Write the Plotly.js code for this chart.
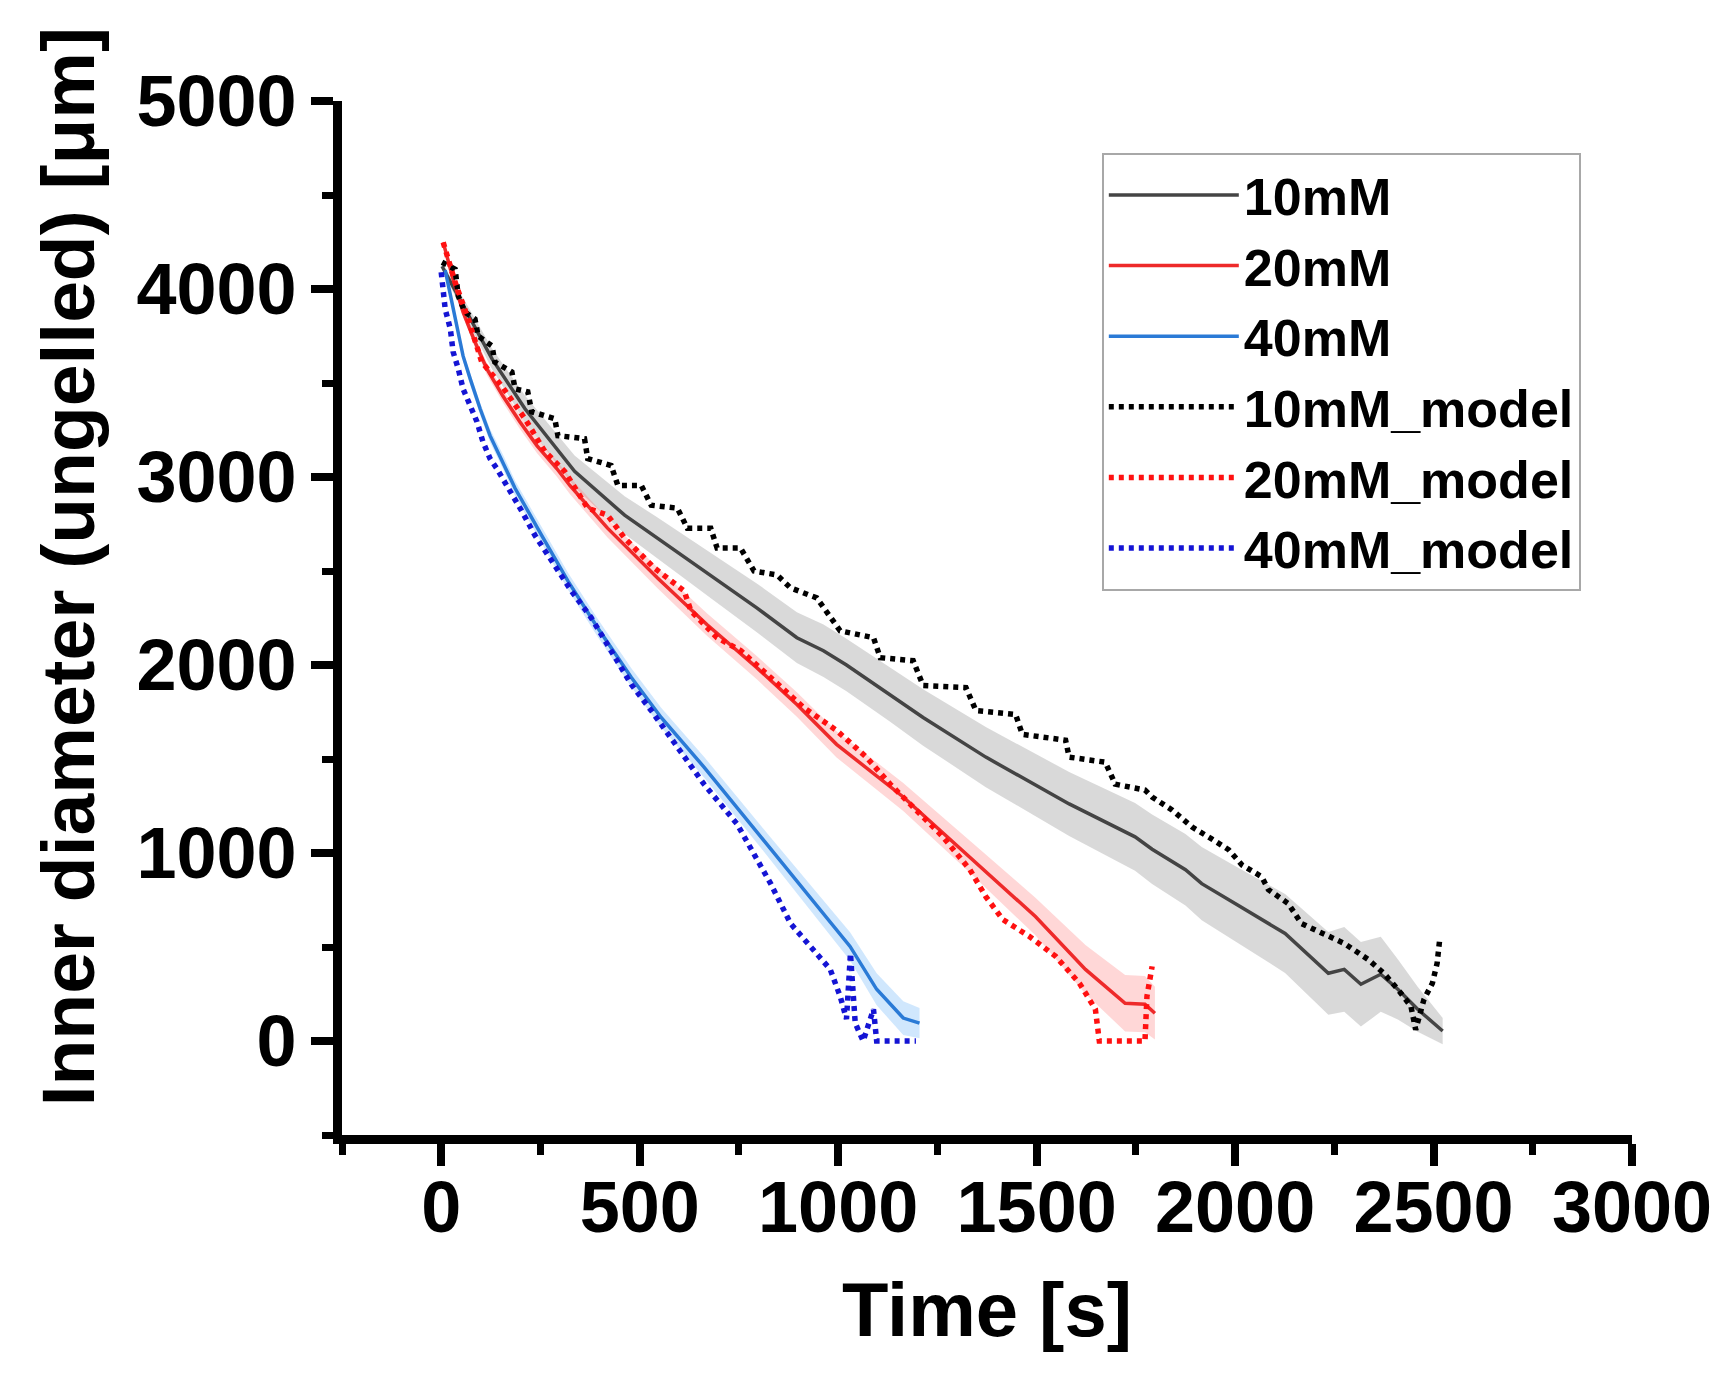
<!DOCTYPE html>
<html>
<head>
<meta charset="utf-8">
<script src="https://cdn.plot.ly/plotly-3.0.1.min.js"></script>
<style>
  body { margin: 0; background: #fff; }
  #chart { width: 1719px; height: 1386px; }
</style>
</head>
<body>
<div id="chart"></div>
<script>
let time10 = [2, 43, 128, 211, 336, 462, 545, 687, 795, 896, 963, 1021, 1131, 1214, 1372, 1582, 1748, 1791, 1875, 1916, 2000, 2126, 2235, 2275, 2317, 2367, 2410, 2460, 2523];
let dia10 = [4121, 3962, 3628, 3363, 3030, 2797, 2675, 2463, 2304, 2145, 2076, 2000, 1843, 1721, 1510, 1261, 1086, 1020, 911, 837, 731, 572, 360, 381, 302, 355, 275, 169, 53];
let sd10 = [20, 35, 55, 70, 85, 100, 110, 120, 130, 135, 140, 140, 145, 150, 160, 170, 180, 185, 190, 195, 200, 210, 220, 225, 225, 200, 160, 120, 70];

let time20 = [5, 30, 55, 85, 115, 155, 198, 241, 291, 324, 419, 545, 670, 795, 896, 996, 1164, 1332, 1497, 1623, 1723, 1773, 1798];
let dia20 = [4248, 4052, 3877, 3718, 3575, 3432, 3294, 3167, 3045, 2955, 2728, 2463, 2214, 1986, 1790, 1578, 1298, 980, 662, 381, 201, 196, 148];
let sd20 = [10, 15, 20, 30, 32, 35, 38, 40, 42, 45, 50, 55, 60, 62, 65, 70, 75, 85, 100, 130, 150, 150, 140];

let time40 = [10, 23, 40, 55, 73, 98, 123, 155, 186, 253, 319, 394, 479, 554, 662, 830, 913, 1030, 1097, 1164, 1205];
let dia40 = [4100, 3962, 3787, 3644, 3522, 3363, 3220, 3083, 2940, 2690, 2447, 2198, 1933, 1721, 1457, 1022, 807, 503, 275, 122, 95];
let sd40 = [10, 15, 20, 25, 30, 32, 35, 38, 40, 42, 45, 48, 50, 52, 55, 60, 65, 75, 85, 90, 80];

// model curves
let mtime10 = [2, 35, 43, 60, 85, 93, 128, 135, 178, 186, 218, 228, 286, 294, 361, 369, 428, 445, 504, 529, 595, 620, 679, 695, 754, 788, 846, 880, 946, 1005, 1089, 1106, 1189, 1214, 1322, 1347, 1447, 1464, 1573, 1582, 1673, 1698, 1773, 1791, 1841, 1891, 1941, 1984, 2017, 2067, 2084, 2134, 2167, 2225, 2275, 2335, 2375, 2410, 2443, 2455, 2476, 2497, 2509, 2515];
let mdia10 = [4142, 4105, 3962, 3877, 3840, 3750, 3697, 3612, 3559, 3469, 3453, 3347, 3310, 3220, 3204, 3098, 3061, 2955, 2955, 2850, 2834, 2728, 2728, 2622, 2622, 2500, 2479, 2410, 2357, 2182, 2145, 2039, 2023, 1891, 1880, 1758, 1737, 1631, 1600, 1510, 1483, 1366, 1335, 1298, 1229, 1139, 1075, 1017, 937, 874, 805, 731, 625, 572, 519, 434, 360, 275, 185, 60, 222, 307, 413, 530];

let mtime20 = [5, 35, 68, 102, 152, 211, 261, 311, 369, 419, 462, 537, 612, 629, 695, 755, 830, 913, 996, 1071, 1131, 1196, 1264, 1332, 1372, 1415, 1482, 1548, 1608, 1648, 1658, 1773, 1778, 1791];
let mdia20 = [4248, 4036, 3840, 3612, 3485, 3310, 3136, 3030, 2834, 2797, 2675, 2516, 2394, 2288, 2145, 2076, 1933, 1774, 1652, 1510, 1366, 1229, 1086, 911, 768, 646, 556, 450, 307, 169, 0, 0, 238, 397];

let mtime40 = [0, 5, 10, 23, 30, 43, 55, 73, 90, 105, 123, 140, 166, 203, 236, 286, 328, 378, 428, 479, 529, 662, 745, 830, 880, 930, 980, 1005, 1021, 1031, 1043, 1063, 1089, 1097, 1196];
let mdia40 = [4089, 3999, 3893, 3787, 3665, 3575, 3469, 3379, 3294, 3188, 3098, 3045, 2955, 2818, 2690, 2532, 2394, 2251, 2076, 1896, 1758, 1366, 1155, 837, 625, 503, 381, 238, 117, 466, 95, 0, 169, 0, 0];

const FONT = "Liberation Sans, Arial, Helvetica, sans-serif";

// shaded band = mean +/- sd
function band(x, y, sd, fill) {
    let upper = y.map((v, i) => v + sd[i]);
    let lower = y.map((v, i) => v - sd[i]);
    return [
        { x: x, y: upper, mode: "lines", line: { width: 0 }, showlegend: false, hoverinfo: "skip" },
        { x: x, y: lower, mode: "lines", line: { width: 0 }, fill: "tonexty", fillcolor: fill, showlegend: false, hoverinfo: "skip" }
    ];
}

function solid(name, x, y, color) {
    return { name: name, x: x, y: y, mode: "lines", line: { color: color, width: 3.5 } };
}

function dotted(name, x, y, color) {
    return { name: name, x: x, y: y, mode: "lines", line: { color: color, width: 5.5, dash: "5px,5px" } };
}

let traces = [].concat(
    band(time10, dia10, sd10, "rgba(160,160,160,0.4)"),
    band(time20, dia20, sd20, "rgba(255,110,110,0.28)"),
    band(time40, dia40, sd40, "rgba(100,175,250,0.3)"),
    [
        solid("10mM", time10, dia10, "#444444"),
        solid("20mM", time20, dia20, "#ee2a2a"),
        solid("40mM", time40, dia40, "#2a7ad6"),
        dotted("10mM_model", mtime10, mdia10, "#000000"),
        dotted("20mM_model", mtime20, mdia20, "#ff1010"),
        dotted("40mM_model", mtime40, mdia40, "#1414d4")
    ]
);

let axisCommon = {
    showgrid: false,
    zeroline: false,
    showline: true,
    linecolor: "#000",
    linewidth: 9,
    ticks: "outside",
    ticklen: 22,
    tickwidth: 8,
    tickcolor: "#000",
    tickfont: { family: FONT, size: 72, weight: "bold", color: "#000" }
};

let layout = {
    width: 1719,
    height: 1386,
    margin: { l: 342, r: 87, t: 101, b: 251 },
    paper_bgcolor: "#fff",
    plot_bgcolor: "#fff",
    showlegend: true,
    xaxis: Object.assign({}, axisCommon, {
        range: [-250, 3000],
        tickvals: [0, 500, 1000, 1500, 2000, 2500, 3000],
        ticklabelstandoff: -20,
        minor: { tickvals: [-250, 250, 750, 1250, 1750, 2250, 2750], ticklen: 11, tickwidth: 7, tickcolor: "#000", ticks: "outside" },
        title: { text: "Time [s]", font: { family: FONT, size: 76, weight: "bold", color: "#000" }, standoff: 40 }
    }),
    yaxis: Object.assign({}, axisCommon, {
        range: [-500, 5000],
        tickvals: [0, 1000, 2000, 3000, 4000, 5000],
        minor: { tickvals: [-500, 500, 1500, 2500, 3500, 4500], ticklen: 11, tickwidth: 7, tickcolor: "#000", ticks: "outside" }
    }),
    // y title placed as in the figure (sits a little above the axis centre)
    annotations: [{
        text: "Inner diameter (ungelled) [μm]",
        xref: "paper", yref: "paper",
        x: -0.2124, y: 0.549,
        xanchor: "center", yanchor: "middle",
        textangle: -90,
        showarrow: false,
        font: { family: FONT, size: 75, weight: "bold", color: "#000" }
    }],
    legend: {
        x: 0.589, y: 0.95, xanchor: "left", yanchor: "top",
        traceorder: "normal",
        bgcolor: "#fff",
        bordercolor: "#a8a8a8",
        borderwidth: 2,
        itemwidth: 130,
        font: { family: FONT, size: 52, weight: "bold", color: "#000" }
    }
};

Plotly.newPlot("chart", traces, layout, { staticPlot: true, displayModeBar: false });
</script>
</body>
</html>
